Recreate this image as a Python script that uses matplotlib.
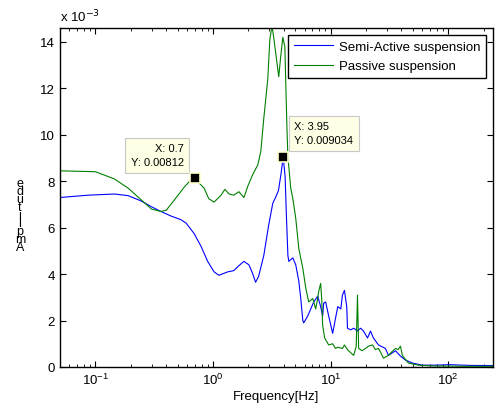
import numpy as np
import matplotlib
matplotlib.use("Agg")
import matplotlib.pyplot as plt
from matplotlib.ticker import LogLocator, NullFormatter

plt.rcParams['font.family'] = ['Liberation Sans', 'DejaVu Sans']

# Passive suspension (amplitude in units of 1e-3)
passive_f = [0.05, 0.1, 0.145, 0.19, 0.245, 0.30, 0.36, 0.40, 0.47, 0.57, 0.65, 0.70,
             0.84, 0.92, 1.02, 1.17, 1.26, 1.37, 1.5, 1.66, 1.83, 1.98, 2.18, 2.40,
             2.55, 2.7, 2.92, 3.04, 3.17, 3.3, 3.62, 3.75, 3.92, 4.08, 4.16, 4.25, 4.33,
             4.58, 4.77, 5.05, 5.36, 5.8, 6.14, 6.51, 7.04, 7.46, 7.76, 7.91, 8.22, 8.39,
             8.55, 8.89, 9.62, 10.4, 11.0, 11.5, 12.6, 13.1, 13.9, 14.2, 15.7, 16.5, 16.9,
             17.3, 18.5, 19.8, 21.0, 22.7, 24.0, 25.5, 26.5, 28.1, 31.0, 33.0, 35.6, 37.5,
             39.2, 40.7, 45.8, 55.7, 70, 85, 100, 130, 160, 200, 250]
passive_a = [8.45, 8.41, 8.1, 7.7, 7.2, 6.8, 6.7, 6.75, 7.2, 7.75, 8.07, 8.12,
             7.7, 7.25, 7.1, 7.4, 7.65, 7.45, 7.4, 7.55, 7.3, 7.8, 8.3, 8.7,
             9.3, 10.7, 12.4, 14.1, 14.7, 14.1, 12.5, 13.3, 14.2, 13.8, 12.1, 10.3, 9.05,
             7.7, 7.25, 6.4, 5.1, 4.25, 3.4, 2.8, 2.95, 2.5, 2.95, 3.25, 3.6, 2.95,
             1.8, 1.25, 0.95, 1.0, 0.8, 0.85, 0.8, 0.95, 0.75, 0.7, 0.5, 0.9, 3.1,
             0.8, 0.7, 0.8, 0.9, 0.95, 0.75, 0.8, 0.65, 0.38, 0.5, 0.65, 0.8, 0.75,
             0.9, 0.5, 0.17, 0.08, 0.05, 0.04, 0.04, 0.03, 0.03, 0.03, 0.03]

# Semi-active suspension (amplitude in units of 1e-3)
semi_f = [0.05, 0.087, 0.145, 0.19, 0.245, 0.30, 0.36, 0.44, 0.53, 0.59, 0.69, 0.79, 0.90,
          1.02, 1.12, 1.34, 1.50, 1.63, 1.83, 2.02, 2.18, 2.30, 2.44, 2.70, 2.97, 3.22,
          3.4, 3.6, 3.78, 3.95, 4.1, 4.2, 4.33, 4.41, 4.77, 5.05, 5.36, 5.57, 5.8, 5.9,
          6.39, 6.77, 7.18, 7.76, 7.91, 8.22, 8.55, 8.72, 9.07, 9.62, 10.4, 11.0, 11.5,
          12.2, 12.6, 13.1, 13.7, 13.9, 14.8, 15.7, 16.9, 18.0, 19.0, 20.6, 21.8, 23.1,
          25.5, 29.2, 31.0, 35.6, 39.2, 43.2, 49.5, 60.2, 80, 102, 150, 250]
semi_a = [7.3, 7.4, 7.45, 7.38, 7.15, 6.9, 6.7, 6.5, 6.35, 6.2, 5.75, 5.2, 4.55,
          4.1, 3.95, 4.1, 4.15, 4.33, 4.55, 4.4, 4.0, 3.65, 3.9, 4.8, 6.1, 7.05,
          7.3, 7.6, 8.3, 9.034, 8.2, 6.6, 4.8, 4.55, 4.7, 4.4, 3.7, 2.95, 2.0, 1.9,
          2.2, 2.5, 2.8, 3.05, 2.9, 2.6, 2.2, 2.75, 2.8, 2.2, 1.45, 2.1, 2.6,
          2.5, 3.1, 3.3, 2.6, 1.67, 1.6, 1.67, 1.55, 1.67, 1.55, 1.25, 1.55, 1.25,
          0.95, 0.8, 0.5, 0.7, 0.47, 0.3, 0.17, 0.08, 0.08, 0.1, 0.07, 0.06]

yticks = [0, 2, 4, 6, 8, 10, 12, 14]
tip1 = (0.7, 8.12, "X: 0.7\nY: 0.00812")
tip2 = (3.95, 9.034, "X: 3.95\nY: 0.009034")

W, H = 497, 414
fig = plt.figure(figsize=(W/100, H/100), dpi=100)
ax = fig.add_axes([60/W, 46/H, 433/W, 339/H])

ax.plot(semi_f, semi_a, color='#0000ff', lw=0.8, label='Semi-Active suspension')
ax.plot(passive_f, passive_a, color='#008000', lw=0.8, label='Passive suspension')

ax.set_xscale('log')
ax.set_xlim(0.05, 240)
ax.set_ylim(0, 14.6)
ax.set_yticks(yticks)
ax.set_yticklabels([str(t) for t in yticks])
ax.xaxis.set_minor_locator(LogLocator(base=10, subs=np.arange(2, 10)))
ax.xaxis.set_minor_formatter(NullFormatter())
ax.tick_params(which='both', direction='in', top=True, right=True, labelsize=9.5)
ax.tick_params(which='major', length=4, width=0.8)
ax.tick_params(which='minor', length=2, width=0.6)
for s in ax.spines.values():
    s.set_linewidth(1.0)

ax.set_xlabel('Frequency[Hz]', fontsize=9.5, labelpad=2)
fig.text(60/W, 385/H + 0.008, r'x 10$^{-3}$', fontsize=9.5, ha='left', va='bottom')

# stacked y label as in the reference
fig.text(20/W, 1 - 216/H, "e\nd\nu\nt\ni\nl\np\nm\nA", fontsize=9, ha='center', va='center',
         linespacing=0.56)

# data tips
for (fx, fy, txt), off, ha in [(tip1, (-8, 8), 'right'), (tip2, (8, 8.6), 'left')]:
    ax.plot([fx], [fy], marker='s', ms=7, mfc='black', mec='#ffffcc', mew=1.2, zorder=5)
    ax.annotate(txt, xy=(fx, fy), xytext=off, textcoords='offset points', ha=ha, va='bottom',
                fontsize=8, multialignment=ha, linespacing=1.5,
                bbox=dict(boxstyle='square,pad=0.5', fc='#ffffe5', ec='#c8c8c8', lw=0.8))

leg = ax.legend(loc='upper right', fontsize=9.5, frameon=True, fancybox=False, framealpha=1,
                edgecolor='black', handlelength=2.95, handletextpad=0.45, borderaxespad=0.55,
                borderpad=0.42, labelspacing=0.53)
leg.get_frame().set_linewidth(1.0)

fig.savefig('out.png', dpi=100)
